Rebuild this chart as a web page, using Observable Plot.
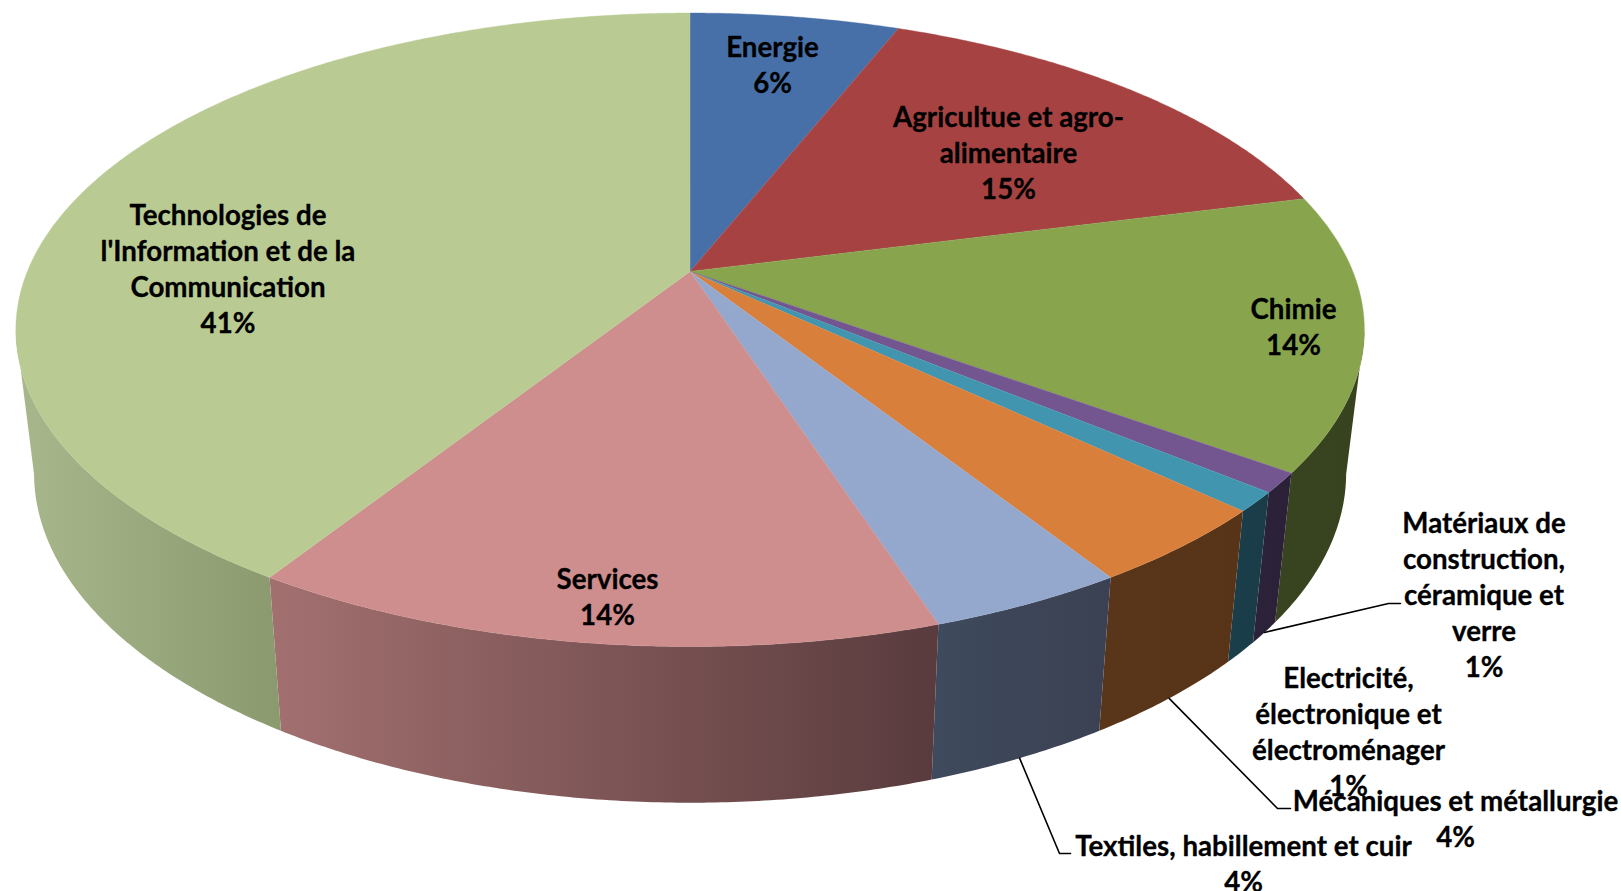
<!DOCTYPE html>
<html>
<head>
<meta charset="utf-8">
<script src="https://cdn.jsdelivr.net/npm/d3@7"></script>
<script src="https://cdn.jsdelivr.net/npm/@observablehq/plot@0.6"></script>
<style>html,body{margin:0;padding:0;background:#fff}svg{display:block;max-width:none}</style>
</head>
<body>
<div id="chart"></div>
<script>
// Data
const categories = ["Energie","Agricultue et agro-\nalimentaire","Chimie","Matériaux de\nconstruction,\ncéramique et\nverre","Electricité,\nélectronique et\nélectroménager","Mécaniques et métallurgie","Textiles, habillement et cuir","Services","Technologies de\nl'Information et de la\nCommunication"];
const shares = [6,15,14,1,1,4,4,14,41];

// Styles
const faceColors = ["#4770A8","#A64342","#88A54E","#735690","#4195AE","#D97F3C","#94A8CE","#CF8E8E","#B9CB93"];
const wallLeft  = [null,null,"#38441F","#2C2239","#1B3E4B","#593519","#3E4A5D","#A37070","#A8B78C"];
const wallRight = [null,null,"#37421E","#2A2037","#1A3C49","#573318","#3B4152","#593B3D","#8B9A6E"];

// Annotation layout (chart units)
const labelX = [772,1008,1293,1483.5,1348,1455,1243,607,227.5];
const labelY = [62.6,151,325,593,729.5,817,862,595,267];
const leaderElbowX = {3:1388,5:1277,6:1059};
const leaderElbowY = {3:603,5:808,6:853};
const leaderEndX = {3:1400,5:1290,6:1070};

// Perspective of the disc
const view = {cx:689.6, cyTop:270.9, cyBottom:412, aTop:662.7, aBottom:644.8, qTop:306, qBottom:318.3, p:0.1843};
function rim(pct, r, level){
  const t = pct/100*2*Math.PI, u = r*Math.sin(t), v = r*Math.cos(t), w = 1+view.p*v;
  return level==="top"
    ? {x:view.cx+view.aTop*u/w, y:view.cyTop-view.qTop*v/w}
    : {x:view.cx+view.aBottom*u/w, y:view.cyBottom-view.qBottom*v/w};
}
function arc(a,b,level){ const n=Math.max(2,Math.ceil((b-a)*8)); return d3.range(n+1).map(i=>rim(a+(b-a)*i/n,1,level)); }

let acc=0;
const slices = shares.map((s,i)=>{const o={i,start:acc,end:acc+s,mid:acc+s/2};acc+=s;return o;});

function defs(){
  const d = d3.create("svg:defs");
  slices.forEach(s=>{
    if(!wallLeft[s.i]) return;
    const g=d.append("linearGradient").attr("id","wall"+s.i).attr("x1",0).attr("x2",1).attr("y1",0).attr("y2",0);
    g.append("stop").attr("offset",0).attr("stop-color",wallLeft[s.i]);
    g.append("stop").attr("offset",1).attr("stop-color",wallRight[s.i]);
  });
  return d.node();
}

const wallMarks = slices.filter(s=>wallLeft[s.i]).map(s=>{
  const a = s.i===2 ? 28 : s.start, b = s.i===8 ? 72 : s.end;
  const poly = [...arc(a,b,"top"),...arc(a,b,"bottom").reverse()];
  return Plot.line(poly,{x:"x",y:"y",fill:`url(#wall${s.i})`,stroke:"none"});
});
const faceMarks = slices.map(s=>{
  const poly=[rim(0,0,"top"),...arc(s.start,s.end,"top")];
  return Plot.line(poly,{x:"x",y:"y",fill:faceColors[s.i],stroke:faceColors[s.i],strokeWidth:0.4});
});
const leaderMarks = Object.keys(leaderElbowX).map(k=>{
  const p=rim(slices[k].mid,1,"bottom");
  const pts=[p,{x:leaderElbowX[k],y:leaderElbowY[k]},{x:leaderEndX[k],y:leaderElbowY[k]}];
  return Plot.line(pts,{x:"x",y:"y",stroke:"#000",strokeWidth:1.6});
});
const labels = slices.map(s=>({text:categories[s.i]+"\n"+shares[s.i]+"%",x:labelX[s.i],y:labelY[s.i]}));

const chart = Plot.plot({
  width:1621,height:891,margin:0,
  x:{domain:[0,1621],axis:null},
  y:{domain:[891,0],axis:null},
  style:{background:"#fff"},
  marks:[
    defs,
    ...wallMarks,
    ...faceMarks,
    ...leaderMarks,
    Plot.text(labels,{x:"x",y:"y",text:"text",fontFamily:"Lato",fontWeight:700,fontSize:27.7,lineHeight:1.3,fill:"#000",stroke:"#000",strokeWidth:0.3,textAnchor:"middle"})
  ]
});
document.getElementById("chart").append(chart);
</script>
</body>
</html>
